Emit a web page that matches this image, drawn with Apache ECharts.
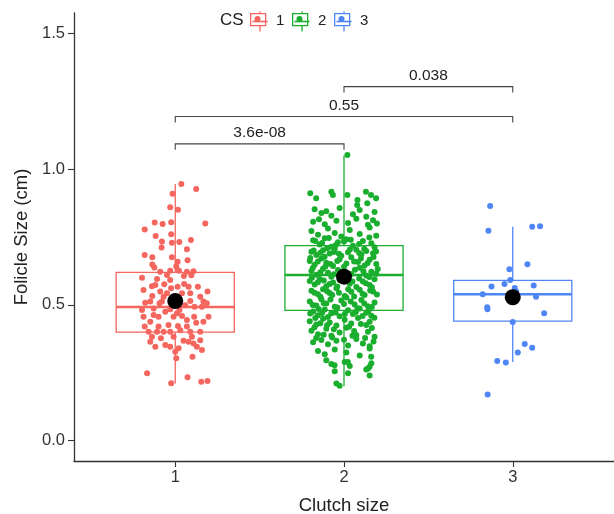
<!DOCTYPE html>
<html>
<head>
<meta charset="utf-8">
<script src="https://cdn.jsdelivr.net/npm/echarts@6/dist/echarts.min.js"></script>
<style>
html, body { margin: 0; padding: 0; background: #fff; }
#main { width: 614px; height: 514px; }
</style>
</head>
<body>
<div id="main"></div>
<script>
// categories / tick labels
var groups = ['1', '2', '3'];
var yTicks = [0, 0.5, 1.0, 1.5];

// box stats per group: [low whisker, q1, median, q3, high whisker]
var box1 = [0.21, 0.40, 0.492, 0.62, 0.945];
var box2 = [0.20, 0.48, 0.61, 0.718, 1.05];
var box3 = [0.29, 0.44, 0.539, 0.59, 0.788];
var means = [0.514, 0.604, 0.528];

// jittered observations: [jitter, follicle size]
var pts1 = [
	[0.036,0.945],[0.124,0.927],[-0.016,0.909],[-0.03,0.86],[0.016,0.85],[-0.122,0.803],[-0.075,0.798],
	[-0.024,0.804],[0.178,0.8],[-0.181,0.778],[-0.024,0.76],[-0.116,0.754],[0.093,0.739],[-0.079,0.733],
	[-0.02,0.729],[0.024,0.732],[-0.081,0.711],[0.069,0.705],[-0.181,0.684],[-0.136,0.675],[-0.02,0.675],
	[0.014,0.659],[0.073,0.664],[-0.136,0.649],[-0.124,0.638],[0.006,0.641],[-0.03,0.626],[0.022,0.626],
	[0.069,0.622],[0.108,0.624],[-0.197,0.6],[-0.108,0.595],[-0.03,0.592],[0.051,0.606],[0.095,0.609],
	[-0.065,0.576],[-0.138,0.569],[0.053,0.577],[-0.025,0.561],[-0.188,0.555],[-0.089,0.549],[0.134,0.567],
	[-0.136,0.533],[-0.069,0.53],[0.089,0.543],[0.148,0.53],[0.191,0.549],[-0.178,0.508],[-0.093,0.506],
	[0.089,0.514],[0.167,0.512],[0.187,0.506],[-0.197,0.481],[-0.128,0.487],[-0.03,0.484],[0.025,0.481],
	[0.114,0.493],[0.158,0.493],[-0.188,0.456],[-0.128,0.463],[-0.099,0.456],[-0.01,0.456],[0.04,0.459],
	[0.112,0.456],[0.197,0.456],[0.124,0.434],[-0.181,0.42],[-0.04,0.426],[0.016,0.422],[0.069,0.42],
	[-0.158,0.401],[-0.108,0.401],[-0.069,0.401],[-0.03,0.401],[0.03,0.407],[0.089,0.401],[0.148,0.401],
	[-0.138,0.383],[-0.085,0.377],[0.099,0.383],[0.148,0.37],[-0.148,0.364],[0.049,0.368],[-0.059,0.352],
	[0.108,0.358],[-0.118,0.346],[-0.03,0.346],[0.02,0.34],[0.128,0.346],[0,0.327],[0.158,0.334],
	[0.006,0.303],[0.102,0.309],[-0.167,0.248],[0.073,0.233],[-0.024,0.211],[0.154,0.217],[0.191,0.22],
	[-0.049,0.543],[0.01,0.469],[-0.059,0.475],[0.059,0.499],[-0.079,0.512],[0.069,0.444],[-0.148,0.438],
	[0.167,0.438],[-0.01,0.383],[0.079,0.364],[-0.099,0.42],[-0.118,0.573],[0.014,0.567],[-0.049,0.61],
	[-0.089,0.622],[0.079,0.567],[0.04,0.543],[-0.148,0.512]
];
var pts2 = [
	[0.02,1.052],
	[-0.2,0.911],[-0.165,0.893],[-0.075,0.917],[-0.066,0.905],[0.02,0.905],[0.13,0.917],[0.16,0.905],
	[0.19,0.893],[0.08,0.886],[0.078,0.868],[0.138,0.874],
	[-0.174,0.852],[-0.134,0.838],[-0.105,0.845],[-0.075,0.828],[-0.026,0.857],[0.053,0.834],[0.093,0.849],[0.132,0.825],[0.181,0.842],
	[-0.183,0.806],[-0.148,0.815],[-0.114,0.797],[-0.045,0.81],[0.024,0.802],[0.073,0.817],[0.142,0.795],[0.172,0.812],[0.195,0.8],
	[-0.193,0.772],[-0.154,0.758],[-0.095,0.781],[-0.055,0.765],[-0.016,0.752],[0.034,0.776],[0.093,0.761],[0.152,0.785],[0.191,0.755],
	[-0.183,0.738],[-0.144,0.722],[-0.114,0.745],[-0.075,0.714],[-0.036,0.731],[0.014,0.742],[0.053,0.718],[0.112,0.735],[0.162,0.727],[0.181,0.712],
	[-0.193,0.696],[-0.164,0.684],[-0.124,0.701],[-0.085,0.689],[-0.055,0.706],[-0.016,0.681],[0.024,0.694],[0.073,0.703],[0.103,0.686],[0.132,0.698],[0.172,0.69],
	[-0.203,0.662],[-0.174,0.648],[-0.134,0.671],[-0.105,0.655],[-0.065,0.643],[-0.026,0.668],[0.014,0.652],[0.043,0.675],[0.083,0.658],[0.122,0.645],[0.152,0.666],[0.191,0.651],
	[-0.193,0.625],[-0.164,0.611],[-0.124,0.633],[-0.095,0.618],[-0.075,0.604],[-0.036,0.628],[0.043,0.614],[0.093,0.637],[0.132,0.608],[0.162,0.622],[0.191,0.615],
	[-0.203,0.588],[-0.174,0.575],[-0.144,0.595],[-0.105,0.569],[-0.065,0.582],[-0.026,0.592],[0.034,0.578],[0.073,0.566],[0.112,0.586],[0.152,0.573],[0.181,0.594],
	[-0.193,0.552],[-0.154,0.539],[-0.124,0.558],[-0.085,0.544],[-0.045,0.561],[0.004,0.533],[0.043,0.548],[0.093,0.556],[0.122,0.536],[0.172,0.549],
	[-0.203,0.512],[-0.164,0.498],[-0.134,0.521],[-0.105,0.505],[-0.055,0.493],[-0.016,0.516],[0.014,0.527],[0.063,0.501],[0.103,0.518],[0.142,0.495],[0.181,0.509],
	[-0.183,0.476],[-0.154,0.462],[-0.114,0.483],[-0.075,0.469],[-0.026,0.458],[0.024,0.48],[0.053,0.466],[0.093,0.487],[0.132,0.471],[0.162,0.46],
	[-0.203,0.44],[-0.164,0.428],[-0.124,0.449],[-0.085,0.435],[-0.045,0.424],[0.004,0.445],[0.043,0.431],[0.083,0.452],[0.132,0.426],[0.152,0.438],
	[-0.193,0.405],[-0.154,0.392],[-0.105,0.412],[-0.075,0.386],[-0.026,0.398],[0.014,0.416],[0.073,0.389],[0.142,0.401],[0.181,0.383],
	[-0.183,0.362],[-0.134,0.371],[-0.095,0.355],[-0.045,0.368],[0.024,0.35],[0.073,0.374],[0.112,0.358],[0.152,0.348],
	[-0.154,0.33],[-0.114,0.318],[-0.055,0.336],[0.014,0.325],[0.093,0.314],[0.152,0.339],
	[-0.105,0.296],[-0.075,0.282],[0.004,0.29],[0.034,0.275],[0.162,0.285],
	[-0.055,0.256],[0.024,0.248],[0.132,0.262],[0.152,0.24],
	[-0.045,0.21],[-0.026,0.202],
	[0.152,0.272],[0.142,0.266],[0.161,0.309],[-0.056,0.278],[0.023,0.29],
	[-0.17,0.735],[-0.13,0.728],[-0.09,0.746],[-0.05,0.72],[0.0,0.733],[0.04,0.74],[0.09,0.724],[0.15,0.748],
	[-0.18,0.7],[-0.14,0.692],[-0.1,0.709],[-0.06,0.695],[-0.03,0.688],[0.035,0.704],[0.09,0.691],[0.12,0.707],[0.19,0.697],
	[-0.2,0.673],[-0.155,0.66],[-0.115,0.677],[-0.08,0.651],[-0.04,0.662],[0.0,0.64],[0.06,0.66],[0.1,0.671],[0.14,0.654],[0.175,0.676],
	[-0.185,0.636],[-0.14,0.62],[-0.11,0.641],[-0.06,0.613],[-0.01,0.619],[0.065,0.629],[0.115,0.624],[0.15,0.603],[0.2,0.632],
	[-0.19,0.6],[-0.155,0.583],[-0.12,0.59],[-0.085,0.577],[-0.04,0.568],[0.05,0.586],[0.09,0.597],[0.13,0.58],[0.165,0.565],
	[-0.175,0.545],[-0.14,0.53],[-0.1,0.55],[-0.07,0.536],[-0.03,0.545],[0.025,0.558],[0.06,0.531],[0.11,0.541],[0.155,0.553],[0.195,0.538],
	[-0.185,0.5],[-0.15,0.485],[-0.12,0.506],[-0.08,0.52],[-0.04,0.49],[0.0,0.503],[0.04,0.512],[0.08,0.488],[0.12,0.505],[0.165,0.492],
	[-0.2,0.468],[-0.17,0.452],[-0.13,0.47],[-0.095,0.455],[-0.05,0.472],[0.005,0.466],[0.07,0.474],[0.11,0.459],[0.145,0.477],[0.18,0.453],
	[-0.175,0.418],[-0.14,0.432],[-0.1,0.425],[-0.06,0.41],[0.03,0.419],[0.06,0.404],[0.1,0.43],[0.165,0.415],
	[-0.165,0.378],[-0.12,0.39],[-0.07,0.38],[0.0,0.372],[0.05,0.386],[0.125,0.378],[0.175,0.365]
];
var pts3 = [
	[-0.134,0.864],[-0.144,0.773],[0.115,0.788],[0.162,0.79],[0.087,0.65],[-0.02,0.631],[-0.015,0.592],
	[-0.049,0.577],[-0.126,0.568],[0.012,0.562],[0.124,0.571],[-0.178,0.539],[0.138,0.53],[-0.151,0.491],
	[-0.15,0.484],[0.186,0.469],[0,0.437],[0.071,0.356],[0.115,0.342],[0.03,0.325],[-0.092,0.293],
	[-0.041,0.288],[-0.149,0.17],[0.02,0.55]
];

// significance brackets
var bracketFrom = [1, 1, 2];
var bracketTo = [2, 3, 3];
var bracketY = [1.093, 1.194, 1.304];
var bracketText = ['3.6e-08', '0.55', '0.038'];

var colors = ['#F4665E', '#1AAE2E', '#4F86F6'];
var font = "'Liberation Sans', Arial, Helvetica, sans-serif";

var chart = echarts.init(document.getElementById('main'));

var boxes = [box1, box2, box3];
var boxData = [];
for (var i = 0; i < boxes.length; i++) {
	boxData.push([i + 1].concat(boxes[i]));
}

function jitter(pts, g) {
	var out = [];
	for (var i = 0; i < pts.length; i++) {
		out.push([g + pts[i][0], pts[i][1]]);
	}
	return out;
}

var meanData = [];
for (var i = 0; i < means.length; i++) {
	meanData.push([i + 1, means[i]]);
}

var bracketData = [];
for (var i = 0; i < bracketFrom.length; i++) {
	bracketData.push([bracketFrom[i], bracketTo[i], bracketY[i]]);
}

function renderBox(params, api) {
	var x = api.value(0);
	var lo = api.coord([x, api.value(1)]),
		q1 = api.coord([x, api.value(2)]),
		md = api.coord([x, api.value(3)]),
		q3 = api.coord([x, api.value(4)]),
		hi = api.coord([x, api.value(5)]);
	var w = api.size([0.7, 0])[0];
	var c = colors[params.dataIndex];
	var st = {stroke: c, lineWidth: 1.3, fill: null};
	return {
		type: 'group',
		children: [
			{type: 'line', shape: {x1: lo[0], y1: lo[1], x2: q1[0], y2: q1[1]}, style: st},
			{type: 'line', shape: {x1: q3[0], y1: q3[1], x2: hi[0], y2: hi[1]}, style: st},
			{type: 'rect', shape: {x: q3[0] - w / 2, y: q3[1], width: w, height: q1[1] - q3[1]}, style: st},
			{type: 'line', shape: {x1: md[0] - w / 2, y1: md[1], x2: md[0] + w / 2, y2: md[1]}, style: {stroke: c, lineWidth: 2.4}}
		]
	};
}

function renderBracket(params, api) {
	var y = api.value(2);
	var a = api.coord([api.value(0), y]),
		b = api.coord([api.value(1), y]),
		a2 = api.coord([api.value(0), y - 0.022]),
		b2 = api.coord([api.value(1), y - 0.022]);
	return {
		type: 'group',
		children: [
			{type: 'polyline', shape: {points: [a2, a, b, b2]}, style: {stroke: '#444', lineWidth: 1.1, fill: null}},
			{type: 'text', x: (a[0] + b[0]) / 2, y: a[1] - 3, style: {
				text: bracketText[params.dataIndex], fill: '#222', font: '15.5px ' + font,
				align: 'center', verticalAlign: 'bottom'
			}}
		]
	};
}

function legendItem(i, x) {
	var c = colors[i];
	return [
		{type: 'line', left: x + 7.5, top: 9, shape: {x1: 0, y1: 0, x2: 0, y2: 20}, style: {stroke: c, lineWidth: 1.3}},
		{type: 'rect', left: x, top: 13, shape: {width: 15, height: 12}, style: {stroke: c, lineWidth: 1.3, fill: '#fff'}},
		{type: 'line', left: x, top: 19, shape: {x1: 0, y1: 0, x2: 15, y2: 0}, style: {stroke: c, lineWidth: 1.6}},
		{type: 'circle', left: x + 4.5, top: 16, shape: {r: 3}, style: {fill: c}},
		{type: 'text', left: x + 26, top: 13, style: {text: groups[i], fill: '#222', font: '15px ' + font}}
	];
}

var graphics = [
	{type: 'text', left: 220, top: 12, style: {text: 'CS', fill: '#222', font: '17px ' + font}}
];
graphics = graphics.concat(legendItem(0, 250), legendItem(1, 292), legendItem(2, 334));

var axisCommon = {
	axisLine: {show: true, onZero: false, lineStyle: {color: '#333', width: 1.3}},
	axisTick: {show: true, length: 6, lineStyle: {color: '#333', width: 1.1}},
	splitLine: {show: false}
};

chart.setOption({
	animation: false,
	backgroundColor: '#fff',
	grid: {left: 74, right: 0, top: 13, bottom: 53, outerBoundsMode: 'none'},
	xAxis: echarts.util.merge({
		type: 'value',
		min: 0.4,
		max: 3.6,
		name: 'Clutch size',
		nameLocation: 'middle',
		nameGap: 35,
		nameTextStyle: {fontFamily: font, fontSize: 18.5, color: '#222'},
		axisTick: {customValues: [1, 2, 3]},
		axisLabel: {
			customValues: [1, 2, 3],
			fontFamily: font, fontSize: 16.5, color: '#333', margin: 8,
			formatter: function (v) { return groups[Math.round(v) - 1]; }
		}
	}, axisCommon),
	yAxis: echarts.util.merge({
		type: 'value',
		min: -0.075,
		max: 1.575,
		name: 'Folicle Size (cm)',
		nameLocation: 'middle',
		nameGap: 43,
		nameTextStyle: {fontFamily: font, fontSize: 18.5, color: '#222'},
		axisTick: {customValues: yTicks},
		axisLabel: {
			customValues: yTicks,
			fontFamily: font, fontSize: 16.5, color: '#333', margin: 9,
			formatter: function (v) { return v.toFixed(1); }
		}
	}, axisCommon),
	graphic: graphics,
	series: [
		{type: 'custom', renderItem: renderBox, data: boxData, z: 1, silent: true},
		{type: 'scatter', data: jitter(pts1, 1), symbolSize: 6, itemStyle: {color: colors[0], opacity: 1}, z: 2, silent: true},
		{type: 'scatter', data: jitter(pts2, 2), symbolSize: 6, itemStyle: {color: colors[1], opacity: 1}, z: 2, silent: true},
		{type: 'scatter', data: jitter(pts3, 3), symbolSize: 6, itemStyle: {color: colors[2], opacity: 1}, z: 2, silent: true},
		{type: 'scatter', data: meanData, symbolSize: 16, itemStyle: {color: '#000', opacity: 1}, z: 3, silent: true},
		{type: 'custom', renderItem: renderBracket, data: bracketData, z: 4, silent: true}
	]
});
</script>
</body>
</html>
